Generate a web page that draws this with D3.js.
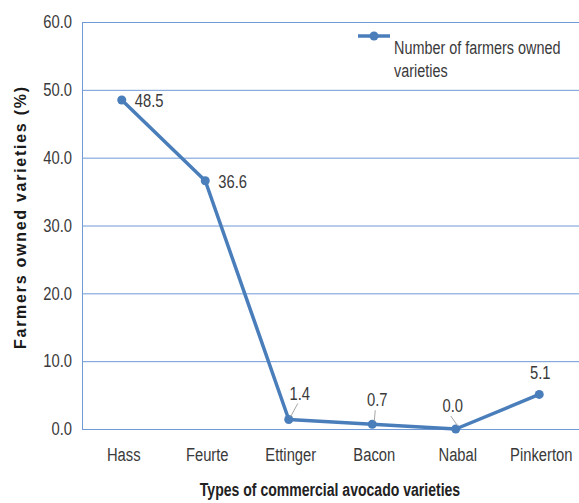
<!DOCTYPE html>
<html>
<head>
<meta charset="utf-8">
<script src="https://cdn.jsdelivr.net/npm/d3@7"></script>
<style>
  body { margin: 0; background: #fff; }
  svg { display: block; }
</style>
</head>
<body>
<div id="chart"></div>
<script>
// data
const varieties = ["Hass", "Feurte", "Ettinger", "Bacon", "Nabal", "Pinkerton"]
const farmersPct = [48.5, 36.6, 1.4, 0.7, 0.0, 5.1]
const yTicks = [0, 10, 20, 30, 40, 50, 60]
const seriesName = ["Number of farmers owned", "varieties"]

// label offsets relative to the point (dx, dy, anchor)
const labelPos = [
    {dx: 13, dy: 7, anchor: "start"},
    {dx: 13, dy: 7, anchor: "start"},
    {dx: 11, dy: -20, anchor: "middle", leader: true},
    {dx: 5, dy: -18, anchor: "middle", leader: true},
    {dx: -3, dy: -17, anchor: "middle", leader: true},
    {dx: 1, dy: -15, anchor: "middle"}
]

const width = 579, height = 503
const margin = {top: 22, right: -4, bottom: 74, left: 82}
const innerWidth = width - margin.left - margin.right
const innerHeight = height - margin.top - margin.bottom

const sans = "'Liberation Sans', Arial, sans-serif"
const lineColor = "#4a7ebb"
const gridColor = "#6f9ad6"
const textColor = "#3a3a3a"

// no narrow font installed: squeeze Liberation Sans horizontally
function condense(sel, factor) {
    sel.each(function () {
        const len = this.getComputedTextLength()
        d3.select(this)
          .attr("textLength", len * factor)
          .attr("lengthAdjust", "spacingAndGlyphs")
    })
}

const svg = d3.select("#chart").append("svg")
              .attr("width", width)
              .attr("height", height)
const chart = svg.append("g")
                 .attr("transform", `translate(${margin.left}, ${margin.top})`)

// scales
const xScale = d3.scaleBand()
                 .domain(varieties)
                 .range([0, innerWidth])
const yScale = d3.scaleLinear()
                 .domain([0, 60])
                 .range([innerHeight, 0])

// grid lines
chart.selectAll(".grid-line")
     .data(yTicks)
     .join("line")
     .attr("class", "grid-line")
     .attr("x1", 0)
     .attr("x2", innerWidth)
     .attr("y1", d => yScale(d) + 0.5)
     .attr("y2", d => yScale(d) + 0.5)
     .attr("stroke", gridColor)
     .attr("stroke-width", 1)

// left axis
const yAxis = d3.axisLeft(yScale)
                .tickValues(yTicks)
                .tickFormat(d3.format(".1f"))
                .tickSize(0)
                .tickPadding(10)
chart.append("g")
     .attr("class", "y-axis")
     .call(yAxis)
chart.select(".y-axis path")
     .attr("stroke", gridColor)
     .attr("d", `M0.5,${innerHeight + 0.5}V0.5`)
chart.selectAll(".y-axis text")
     .attr("font-family", sans)
     .attr("font-size", "18px")
     .attr("fill", textColor)
     .call(condense, 0.82)

// bottom axis
const xAxis = d3.axisBottom(xScale)
                .tickSize(0)
                .tickPadding(19)
chart.append("g")
     .attr("class", "x-axis")
     .attr("transform", `translate(0, ${innerHeight})`)
     .call(xAxis)
chart.select(".x-axis path").remove()
chart.selectAll(".x-axis text")
     .attr("font-family", sans)
     .attr("font-size", "18px")
     .attr("fill", textColor)
     .call(condense, 0.82)

// line
const cx = (d, i) => xScale(varieties[i]) + xScale.bandwidth() / 2 - 2
const line = d3.line()
               .x(cx)
               .y(d => yScale(d))
chart.append("path")
     .datum(farmersPct)
     .attr("d", line)
     .attr("fill", "none")
     .attr("stroke", lineColor)
     .attr("stroke-width", 3.5)
     .attr("stroke-linejoin", "round")

chart.selectAll(".dot")
     .data(farmersPct)
     .join("circle")
     .attr("class", "dot")
     .attr("cx", cx)
     .attr("cy", d => yScale(d))
     .attr("r", 4.5)
     .attr("fill", lineColor)

// leader lines
chart.selectAll(".leader")
     .data(farmersPct.map((d, i) => ({d, i})).filter(o => labelPos[o.i].leader))
     .join("line")
     .attr("class", "leader")
     .attr("x1", o => cx(o.d, o.i) + 2)
     .attr("y1", o => yScale(o.d) - 3)
     .attr("x2", o => cx(o.d, o.i) + labelPos[o.i].dx - 2)
     .attr("y2", o => yScale(o.d) + labelPos[o.i].dy + 4)
     .attr("stroke", "#a6a6a6")
     .attr("stroke-width", 1)

// data labels
chart.selectAll(".label")
     .data(farmersPct)
     .join("text")
     .attr("class", "label")
     .text(d => d.toFixed(1))
     .attr("x", (d, i) => cx(d, i) + labelPos[i].dx)
     .attr("y", (d, i) => yScale(d) + labelPos[i].dy)
     .attr("text-anchor", (d, i) => labelPos[i].anchor)
     .attr("font-family", sans)
     .attr("font-size", "18px")
     .attr("fill", textColor)
     .call(condense, 0.82)

// legend
const legend = svg.append("g")
                  .attr("transform", "translate(358, 36)")
legend.append("line")
      .attr("x1", 0)
      .attr("x2", 32)
      .attr("stroke", lineColor)
      .attr("stroke-width", 3.5)
legend.append("circle")
      .attr("cx", 16)
      .attr("r", 4.5)
      .attr("fill", lineColor)
legend.selectAll("text")
      .data(seriesName)
      .join("text")
      .text(d => d)
      .attr("x", 36)
      .attr("y", (d, i) => 18 + i * 23)
      .attr("font-family", sans)
      .attr("font-size", "18px")
      .attr("fill", textColor)
      .call(condense, 0.8)

// axis titles
svg.append("text")
   .text("Types of commercial avocado varieties")
   .attr("x", 330)
   .attr("y", 496)
   .attr("text-anchor", "middle")
   .attr("font-family", sans)
   .attr("font-weight", "bold")
   .attr("font-size", "18px")
   .attr("fill", "#222")
   .call(condense, 0.78)
svg.append("text")
   .text("Farmers owned varieties  (%)")
   .attr("transform", "translate(26, 218) rotate(-90)")
   .attr("text-anchor", "middle")
   .attr("font-family", sans)
   .attr("font-weight", "bold")
   .attr("font-size", "16px")
   .attr("textLength", 262)
   .attr("lengthAdjust", "spacing")
   .attr("fill", "#1a1a1a")
</script>
</body>
</html>
